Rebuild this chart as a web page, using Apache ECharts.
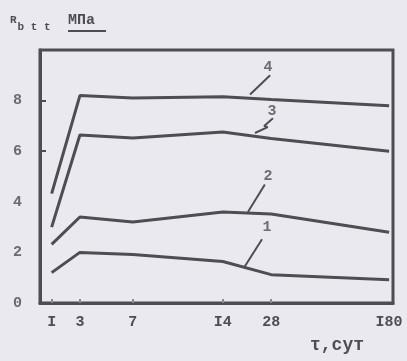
<!DOCTYPE html>
<html>
<head>
<meta charset="utf-8">
<script src="https://cdn.jsdelivr.net/npm/echarts@6/dist/echarts.min.js"></script>
<style>
  html, body { margin: 0; padding: 0; background: #e9e9ef; }
  #chart { width: 407px; height: 361px; }
</style>
</head>
<body>
<div id="chart"></div>
<script>
// days of hardening and where they sit on the (non-uniform) time axis
var days = ['I', '3', '7', 'I4', '28', 'I80'];
var dayPos = [0.33, 1.13, 2.63, 5.18, 6.55, 9.89];

// R_bt,t, MPa, curves 1..4
var curve1 = [1.2, 2.0, 1.92, 1.64, 1.12, 0.92];
var curve2 = [2.32, 3.4, 3.2, 3.6, 3.52, 2.8];
var curve3 = [3.0, 6.64, 6.52, 6.76, 6.5, 6.0];
var curve4 = [4.32, 8.2, 8.1, 8.15, 8.04, 7.8];

var yTicks = [0, 2, 4, 6, 8];

// curve numbers and their leader lines (data coordinates)
var tagNames = ['1', '2', '3', '4'];
var tagAt = [[6.43, 3.0], [6.46, 5.0], [6.57, 7.6], [6.46, 9.32]];
var leaders = [
  [[6.29, 2.52], [5.8, 1.44]],
  [[6.37, 4.68], [5.89, 3.6]],
  [[6.6, 7.3], [6.35, 7.0], [6.45, 6.95], [6.09, 6.72]],
  [[6.52, 9.0], [5.95, 8.24]]
];

var ink = '#4d4d52';
var font = '"Liberation Mono", "DejaVu Sans Mono", monospace';

function pts(vals) {
  return vals.map(function (v, i) { return [dayPos[i], v]; });
}

var series = [curve1, curve2, curve3, curve4].map(function (c) {
  return {
    type: 'line', data: pts(c), symbol: 'none', smooth: false,
    lineStyle: { color: ink, width: 3 }
  };
});
leaders.forEach(function (l) {
  series.push({
    type: 'line', data: l, symbol: 'none',
    lineStyle: { color: ink, width: 2 }
  });
});
series.push({
  type: 'scatter', symbolSize: 0,
  data: tagAt.map(function (p, i) { return { value: p, name: tagNames[i] }; }),
  label: {
    show: true, position: 'inside', formatter: '{b}',
    color: ink, fontFamily: font, fontWeight: 'bold', fontSize: 15
  }
});

var myChart = echarts.init(document.getElementById('chart'));
var option = {
  backgroundColor: '#e9e9ef',
  animation: false,
  grid: {
    left: 40, right: 14, top: 50, bottom: 58,
    show: true, borderColor: ink, borderWidth: 3, backgroundColor: 'transparent'
  },
  xAxis: {
    type: 'value', min: 0, max: 10,
    splitLine: { show: false },
    axisLine: { lineStyle: { color: ink, width: 3 } },
    axisTick: {
      inside: true, length: 4, customValues: dayPos.slice(0, 5),
      lineStyle: { color: '#8a8a90', width: 2 }
    },
    axisLabel: {
      customValues: dayPos,
      formatter: function (v) { return days[dayPos.indexOf(v)]; },
      color: ink, fontFamily: font, fontWeight: 'bold', fontSize: 15, margin: 12
    }
  },
  yAxis: {
    type: 'value', min: 0, max: 10, interval: 2,
    splitLine: { show: false },
    axisLine: { lineStyle: { color: ink, width: 3 } },
    axisTick: { inside: true, length: 6, customValues: [6, 8], lineStyle: { color: ink, width: 2 } },
    axisLabel: {
      customValues: yTicks,
      color: '#6a6a70', fontFamily: font, fontWeight: 'bold', fontSize: 15, margin: 18
    }
  },
  graphic: [
    {
      type: 'text', left: 10, top: 15,
      style: {
        text: '{r|R}{s|b t t}',
        rich: {
          r: { fontFamily: font, fontWeight: 'bold', fontSize: 11, fill: ink },
          s: { fontFamily: font, fontWeight: 'bold', fontSize: 11, fill: ink, padding: [14, 0, 0, 1] }
        }
      }
    },
    {
      type: 'text', left: 68, top: 13,
      style: { text: 'МПа', fontFamily: font, fontWeight: 'bold', fontSize: 15, fill: ink }
    },
    {
      type: 'line', shape: { x1: 68, y1: 31, x2: 106, y2: 31 },
      style: { stroke: ink, lineWidth: 2 }
    },
    {
      type: 'text', left: 310, top: 336,
      style: { text: 'τ,сут', fontFamily: font, fontWeight: 'bold', fontSize: 18, fill: ink }
    }
  ],
  series: series
};
myChart.setOption(option);
</script>
</body>
</html>
